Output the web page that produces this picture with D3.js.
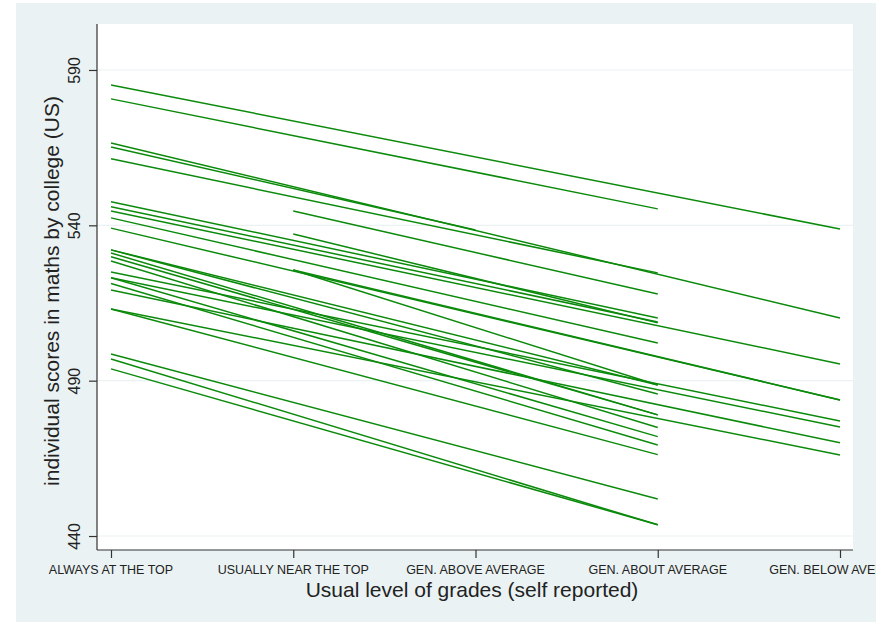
<!DOCTYPE html>
<html>
<head>
<meta charset="utf-8">
<script src="https://cdn.jsdelivr.net/npm/d3@7"></script>
<style>
  body { margin: 0; background: #fff; }
  svg { display: block; }
  text { font-family: "Liberation Sans", Arial, Helvetica, sans-serif; fill: #222; }
</style>
</head>
<body>
<div id="chart"></div>
<script>
// grade levels (x categories)
const levels = ["ALWAYS AT THE TOP", "USUALLY NEAR THE TOP", "GEN. ABOVE AVERAGE",
                "GEN. ABOUT AVERAGE", "GEN. BELOW AVERAGE"];
const yTicks = [440, 490, 540, 590];

// one predicted line per college: first and last grade level reported, with the score there
const startLevel = [0, 0, 0, 0, 0, 1, 0, 0, 0, 1,
                    0, 0, 1, 1, 0, 0, 0, 0, 0, 0,
                    0, 0, 0, 0, 0, 0, 0, 0, 0];
const startScore = [585.2, 580.7, 566.5, 565.2, 561.4, 544.6, 547.6, 546.0, 542.4, 537.2,
                    544.6, 539.1, 525.6, 525.6, 525.0, 523.1, 519.2, 513.1, 531.1, 532.1,
                    532.1, 529.9, 528.5, 523.1, 521.3, 513.1, 498.6, 497.0, 493.8];
const endLevel   = [4, 3, 4, 2, 3, 3, 3, 3, 3, 3,
                    4, 4, 4, 3, 4, 4, 4, 4, 3, 3,
                    3, 3, 3, 3, 3, 3, 3, 3, 3];
const endScore   = [538.8, 545.3, 510.2, 538.5, 524.7, 517.9, 510.2, 508.9, 502.1, 508.6,
                    495.4, 483.8, 483.8, 488.6, 477.0, 475.1, 470.0, 466.1, 479.0, 488.6,
                    485.7, 479.0, 474.9, 472.0, 469.3, 466.2, 451.9, 443.6, 443.6];

const lines = startLevel.map((s, i) => ({
    x1: levels[s], y1: startScore[i], x2: levels[endLevel[i]], y2: endScore[i]
}));

const W = 885, H = 622;
const plot = {left: 97, right: 853, top: 24, bottom: 550};

const svg = d3.select("#chart").append("svg")
    .attr("width", W)
    .attr("height", H);

svg.append("defs").append("clipPath")
    .attr("id", "outer-clip")
    .append("rect")
    .attr("x", 16).attr("y", 3)
    .attr("width", 860).attr("height", 619);

// graph region background (Stata s2color)
svg.append("rect")
    .attr("x", 16).attr("y", 3)
    .attr("width", 860).attr("height", 619)
    .attr("fill", "#eaf2f3");

// plot region
svg.append("rect")
    .attr("x", plot.left).attr("y", plot.top)
    .attr("width", plot.right - plot.left).attr("height", plot.bottom - plot.top)
    .attr("fill", "#fff");

const x = d3.scalePoint()
    .domain(levels)
    .range([111, 840]);

const y = d3.scaleLinear()
    .domain([435.5, 604.8])
    .range([plot.bottom, plot.top]);

// gridlines
svg.append("g")
    .selectAll("line")
    .data(yTicks)
    .join("line")
    .attr("x1", plot.left).attr("x2", plot.right)
    .attr("y1", d => y(d)).attr("y2", d => y(d))
    .attr("stroke", "#eaf2f3")
    .attr("stroke-width", 1.2);

// college lines
svg.append("g")
    .selectAll("line")
    .data(lines)
    .join("line")
    .attr("x1", d => x(d.x1)).attr("y1", d => y(d.y1))
    .attr("x2", d => x(d.x2)).attr("y2", d => y(d.y2))
    .attr("stroke", "#0b8a0b")
    .attr("stroke-width", 1.5);

// Y axis
const yAxis = svg.append("g")
    .attr("transform", `translate(${plot.left},0)`)
    .call(d3.axisLeft(y).tickValues(yTicks).tickSize(8).tickSizeOuter(0).tickFormat(d3.format("d")));
yAxis.select(".domain").attr("d", `M0,${plot.top}V${plot.bottom}`).attr("stroke", "#333").attr("stroke-width", 1.2);
yAxis.selectAll(".tick line").attr("stroke", "#333").attr("stroke-width", 1.2);
yAxis.selectAll(".tick text")
    .attr("transform", "rotate(-90)")
    .attr("x", 0).attr("y", -17)
    .attr("dy", 0)
    .attr("text-anchor", "middle")
    .attr("font-size", "16px")
    .attr("fill", "#222");

// X axis (labels drawn separately so the last one is cut at the frame edge)
const xAxis = svg.append("g")
    .attr("transform", `translate(0,${plot.bottom})`)
    .call(d3.axisBottom(x).tickSize(8).tickSizeOuter(0).tickFormat(""));
xAxis.select(".domain").attr("d", `M${plot.left},0H${plot.right}`).attr("stroke", "#333").attr("stroke-width", 1.2);
xAxis.selectAll(".tick line").attr("stroke", "#333").attr("stroke-width", 1.2);

svg.append("g")
    .attr("clip-path", "url(#outer-clip)")
    .selectAll("text")
    .data(levels)
    .join("text")
    .attr("x", d => x(d))
    .attr("y", plot.bottom + 24)
    .attr("text-anchor", "middle")
    .attr("font-size", "12.5px")
    .text(d => d);

// axis titles
svg.append("text")
    .attr("transform", `translate(59,${(plot.top + plot.bottom) / 2 + 4}) rotate(-90)`)
    .attr("text-anchor", "middle")
    .attr("font-size", "21px")
    .text("individual scores in maths by college (US)");

svg.append("text")
    .attr("x", (plot.left + plot.right) / 2 - 3)
    .attr("y", 597)
    .attr("text-anchor", "middle")
    .attr("font-size", "21px")
    .text("Usual level of grades (self reported)");
</script>
</body>
</html>
